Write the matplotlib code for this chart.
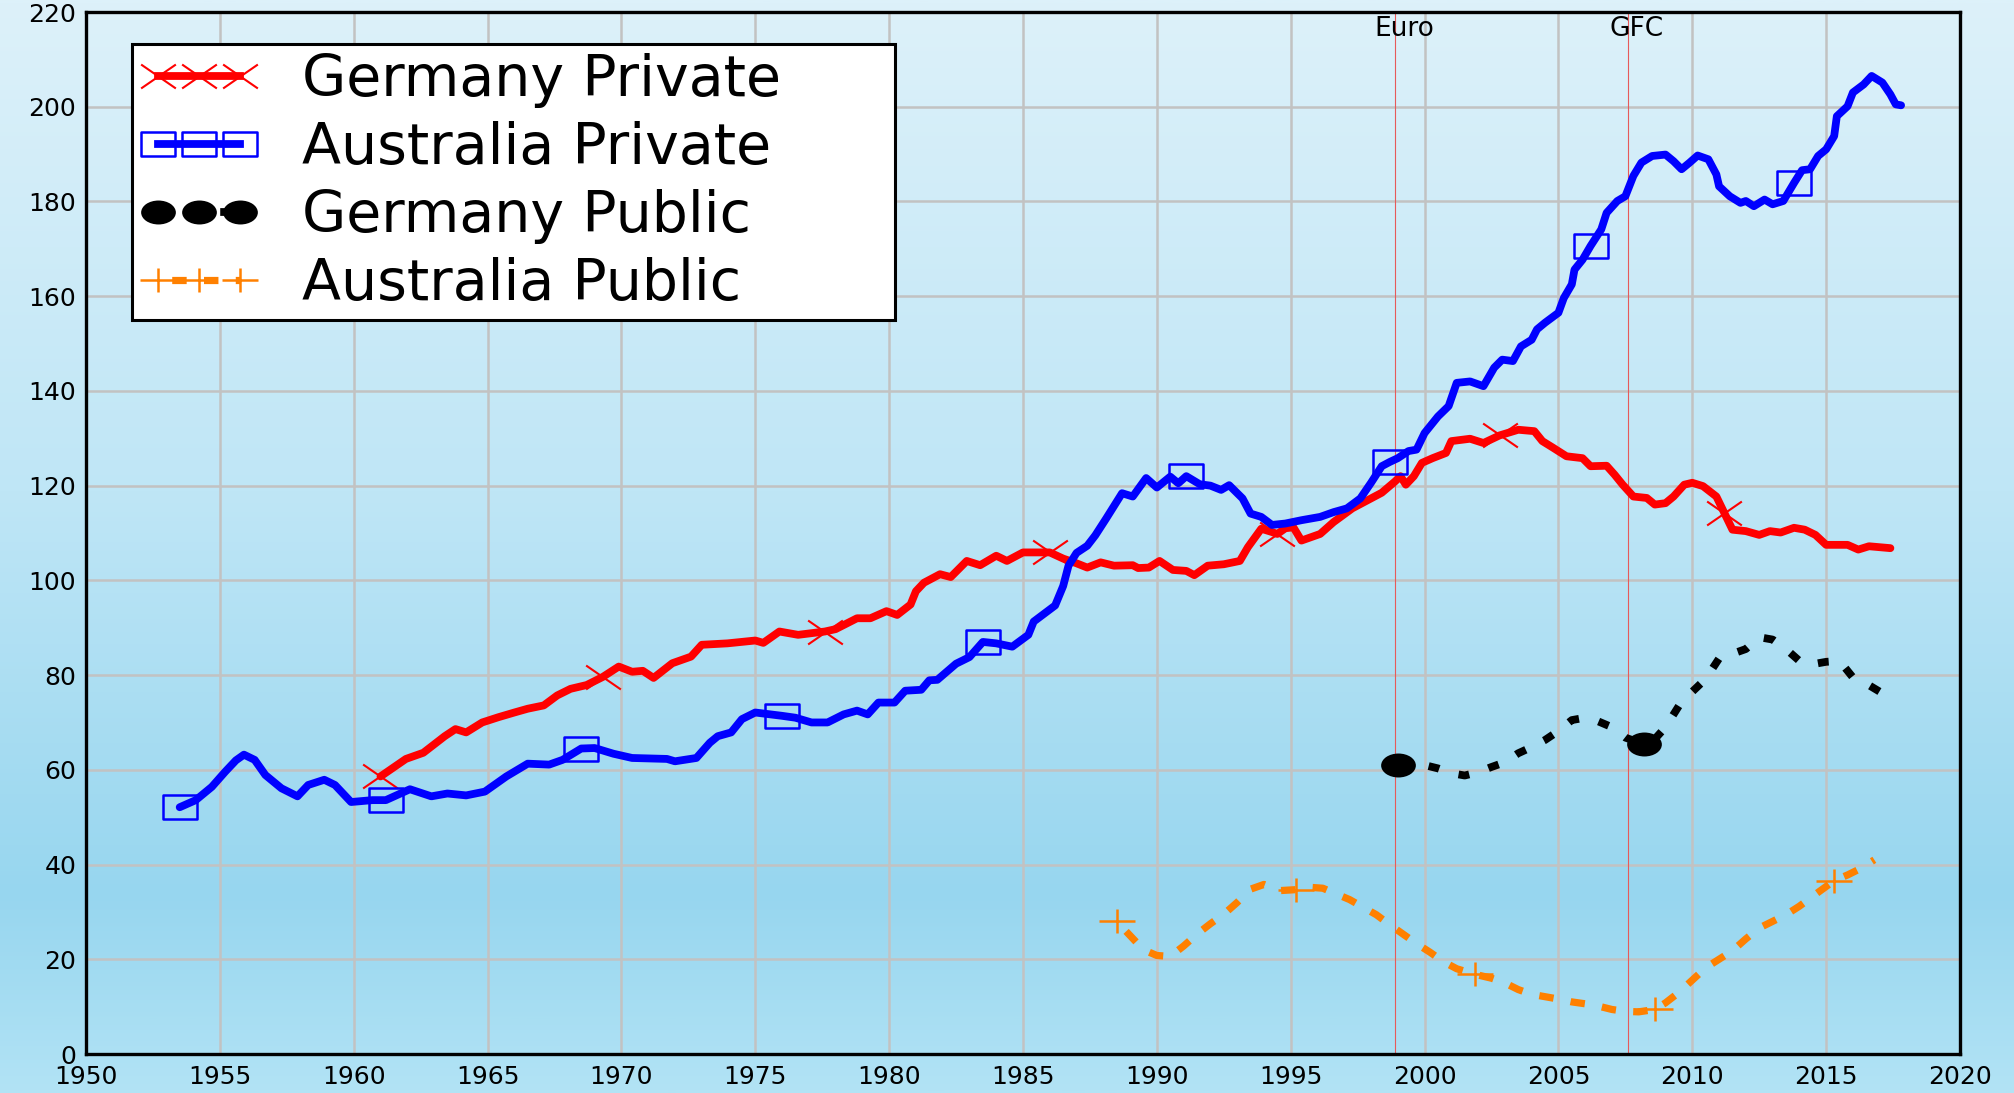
import numpy as np
import matplotlib
matplotlib.use("Agg")
import matplotlib.pyplot as plt
from matplotlib.path import Path
from matplotlib.lines import Line2D
from matplotlib.colors import LinearSegmentedColormap

plt.rcParams['font.family'] = ['DejaVu Sans']

# ---------------- data ----------------
DE_PRIV_YEARS = [1961.0, 1961.95, 1962.6, 1963.4, 1963.8, 1964.2, 1964.8, 1965.4, 1966.0, 1966.5,
                 1967.1, 1967.6, 1968.1, 1968.7, 1969.3, 1969.9, 1970.4, 1970.8, 1971.2, 1971.9,
                 1972.6, 1973.0, 1973.96, 1975.0, 1975.3, 1975.9, 1976.6, 1977.6, 1978.0, 1978.8,
                 1979.3, 1979.9, 1980.3, 1980.8, 1981.0, 1981.3, 1981.9, 1982.3, 1982.9, 1983.4,
                 1984.0, 1984.4, 1985.0, 1985.5, 1986.0, 1986.5, 1987.0, 1987.4, 1987.9, 1988.4,
                 1989.1, 1989.3, 1989.7, 1990.1, 1990.6, 1991.1, 1991.4, 1991.9, 1992.5, 1993.1,
                 1993.4, 1993.9, 1994.3, 1994.5, 1994.8, 1995.1, 1995.4, 1996.1, 1996.6, 1997.3,
                 1997.8, 1998.4, 1998.9, 1999.1, 1999.3, 1999.6, 1999.9, 2000.3, 2000.8, 2001.0,
                 2001.7, 2002.2, 2002.8, 2003.5, 2004.1, 2004.4, 2004.8, 2005.3, 2005.9, 2006.2,
                 2006.8, 2007.1, 2007.4, 2007.8, 2008.3, 2008.6, 2009.0, 2009.3, 2009.7, 2010.0,
                 2010.4, 2010.9, 2011.2, 2011.5, 2012.0, 2012.5, 2012.9, 2013.3, 2013.8, 2014.2,
                 2014.6, 2015.0, 2015.8, 2016.2, 2016.6, 2017.4]
DE_PRIV = [58.6, 62.3, 63.6, 67.1, 68.6, 67.9, 70.0, 71.1, 72.1, 72.9,
           73.6, 75.7, 77.1, 77.9, 79.6, 81.8, 80.7, 80.9, 79.4, 82.5,
           83.9, 86.4, 86.7, 87.3, 86.8, 89.2, 88.5, 89.2, 89.7, 92.0,
           92.0, 93.5, 92.7, 94.9, 97.7, 99.5, 101.3, 100.7, 104.1, 103.2,
           105.2, 104.1, 105.9, 105.9, 105.9, 104.6, 103.6, 102.7, 103.8, 103.1,
           103.2, 102.6, 102.7, 104.1, 102.2, 102.0, 101.1, 103.1, 103.4, 104.1,
           107.0, 110.9, 110.2, 109.8, 111.0, 111.2, 108.4, 109.8, 112.3, 115.2,
           116.7, 118.5, 120.9, 122.0, 120.2, 122.0, 124.8, 125.8, 126.9, 129.4,
           129.9, 129.0, 130.6, 131.8, 131.5, 129.4, 128.0, 126.2, 125.8, 124.1,
           124.2, 122.3, 120.2, 117.7, 117.4, 116.0, 116.3, 117.7, 120.2, 120.6,
           119.9, 117.7, 114.2, 110.7, 110.4, 109.6, 110.4, 110.1, 111.1, 110.7,
           109.6, 107.5, 107.5, 106.5, 107.2, 106.8]
DE_PRIV_MARK_YEARS = [1961.0, 1969.3, 1977.6, 1986.0, 1994.5, 2002.8, 2011.2]

AU_PRIV_YEARS = [1953.5, 1954.1, 1954.7, 1955.2, 1955.6, 1955.9, 1956.3, 1956.7, 1957.3, 1957.9,
                 1958.3, 1958.9, 1959.3, 1959.9, 1960.7, 1961.2, 1962.1, 1962.9, 1963.5, 1964.2,
                 1964.9, 1965.7, 1966.5, 1967.3, 1967.8, 1968.5, 1969.0, 1969.7, 1970.4, 1971.7,
                 1972.0, 1972.8, 1973.3, 1973.6, 1974.1, 1974.5, 1975.0, 1976.0, 1976.5, 1977.1,
                 1977.7, 1978.3, 1978.8, 1979.2, 1979.6, 1980.2, 1980.6, 1981.2, 1981.5, 1981.8,
                 1982.5, 1983.0, 1983.5, 1984.0, 1984.6, 1985.2, 1985.4, 1986.2, 1986.5, 1986.7,
                 1987.0, 1987.4, 1987.7, 1988.1, 1988.5, 1988.7, 1989.1, 1989.6, 1990.0, 1990.5,
                 1990.8, 1991.1, 1991.6, 1992.0, 1992.4, 1992.7, 1993.2, 1993.5, 1993.9, 1994.3,
                 1994.8, 1995.4, 1996.1, 1996.6, 1997.1, 1997.6, 1998.0, 1998.4, 1998.7, 1999.0,
                 1999.4, 1999.7, 2000.0, 2000.5, 2000.9, 2001.2, 2001.7, 2002.2, 2002.6, 2002.9,
                 2003.3, 2003.6, 2004.0, 2004.2, 2004.5, 2005.0, 2005.2, 2005.5, 2005.6, 2005.9,
                 2006.2, 2006.6, 2006.8, 2007.2, 2007.5, 2007.8, 2008.1, 2008.5, 2009.0, 2009.3,
                 2009.6, 2009.9, 2010.2, 2010.6, 2010.9, 2011.0, 2011.4, 2011.8, 2012.0, 2012.3,
                 2012.7, 2013.0, 2013.4, 2013.8, 2014.1, 2014.4, 2014.7, 2015.0, 2015.3, 2015.4,
                 2015.8, 2016.0, 2016.4, 2016.7, 2017.1, 2017.4, 2017.6, 2017.8]
AU_PRIV = [52.1, 53.6, 56.4, 59.6, 62.0, 63.2, 62.1, 58.9, 56.1, 54.4,
           56.8, 57.9, 56.8, 53.2, 53.6, 53.6, 55.9, 54.4, 55.0, 54.6,
           55.4, 58.6, 61.3, 61.1, 62.1, 64.5, 64.6, 63.4, 62.5, 62.3,
           61.8, 62.5, 65.7, 67.1, 67.9, 70.7, 72.1, 71.4, 71.0, 70.0,
           70.0, 71.7, 72.5, 71.7, 74.2, 74.2, 76.7, 76.9, 78.9, 79.0,
           82.4, 83.8, 87.0, 86.7, 86.0, 88.5, 91.3, 94.7, 98.8, 103.1,
           105.8, 107.3, 109.5, 113.0, 116.6, 118.4, 117.7, 121.6, 119.6, 121.9,
           120.5, 122.0, 120.3, 120.0, 119.1, 120.1, 117.3, 114.1, 113.4, 111.7,
           112.0, 112.7, 113.4, 114.4, 115.2, 117.3, 120.6, 124.1, 125.0, 125.8,
           127.3, 127.6, 131.1, 134.6, 136.8, 141.7, 142.0, 141.0, 144.9, 146.6,
           146.3, 149.4, 150.8, 153.0, 154.4, 156.5, 159.6, 162.5, 165.6, 167.7,
           170.6, 174.1, 177.6, 180.1, 181.1, 185.4, 188.2, 189.6, 189.9, 188.5,
           186.8, 188.2, 189.7, 188.9, 185.7, 183.2, 181.1, 179.7, 180.1, 179.0,
           180.4, 179.4, 180.1, 183.9, 186.6, 186.8, 189.6, 191.0, 193.8, 198.0,
           200.1, 203.0, 204.7, 206.5, 205.1, 202.6, 200.5, 200.3]
AU_PRIV_MARK_YEARS = [1953.5, 1961.2, 1968.5, 1976.0, 1983.5, 1991.1, 1998.7, 2006.2, 2013.8]

DE_PUB_YEARS = [1999.0, 1999.5, 2000.0, 2000.5, 2001.0, 2001.5, 2002.0, 2002.5, 2003.0, 2003.5,
                2004.0, 2004.5, 2005.0, 2005.5, 2006.0, 2006.5, 2007.0, 2007.5, 2008.2, 2008.6,
                2009.0, 2009.5, 2010.0, 2010.5, 2011.0, 2011.5, 2012.0, 2012.5, 2013.0, 2013.5,
                2014.0, 2014.5, 2015.0, 2015.5, 2016.0, 2016.5, 2017.0, 2017.2]
DE_PUB = [61.0, 61.3, 61.0, 60.3, 59.3, 58.8, 59.5, 60.6, 61.6, 63.5,
          64.8, 66.3, 68.2, 70.5, 71.0, 70.2, 69.0, 66.8, 65.4, 66.5,
          69.0, 73.5, 76.5, 79.2, 83.5, 84.5, 85.5, 88.0, 87.5, 85.5,
          83.0, 82.3, 82.8, 83.0, 79.5, 78.2, 76.5, 75.5]
DE_PUB_MARK_YEARS = [1999.0, 2008.2]

AU_PUB_YEARS = [1988.5, 1989.0, 1989.5, 1990.0, 1990.5, 1991.0, 1991.5, 1992.0, 1992.5, 1993.0,
                1993.5, 1994.0, 1994.6, 1995.2, 1995.7, 1996.2, 1996.7, 1997.2, 1997.7, 1998.2,
                1998.7, 1999.2, 1999.7, 2000.2, 2000.7, 2001.2, 2001.9, 2002.5, 2003.0, 2003.5,
                2004.0, 2004.5, 2005.0, 2005.5, 2006.0, 2006.5, 2007.0, 2007.5, 2008.0, 2008.6,
                2009.0, 2009.5, 2010.0, 2010.5, 2011.0, 2011.5, 2012.0, 2012.5, 2013.0, 2013.5,
                2014.0, 2014.5, 2015.3, 2015.8, 2016.3, 2016.8]
AU_PUB = [28.0, 25.0, 22.0, 20.8, 20.6, 22.8, 25.3, 27.5, 29.5, 32.0,
          34.8, 35.8, 34.5, 34.7, 35.2, 35.0, 33.8, 32.6, 31.0, 29.4,
          27.3, 25.3, 23.3, 21.5, 19.5, 18.0, 16.8, 16.0, 15.0, 13.6,
          12.6, 12.1, 11.6, 11.0, 10.6, 10.1, 9.4, 9.0, 8.9, 9.4,
          10.8, 13.0, 15.6, 18.2, 20.0, 21.8, 24.3, 26.6, 28.0, 29.4,
          31.2, 33.3, 36.6, 37.8, 39.2, 41.0]
AU_PUB_MARK_YEARS = [1988.5, 1995.2, 2001.9, 2008.6, 2015.3]

EVENT_YEARS = [1998.9, 2007.6]
EVENT_LABELS = ["Euro", "GFC"]

LABELS = ["Germany Private", "Australia Private", "Germany Public", "Australia Public"]
X_TICKS = list(range(1950, 2021, 5))
Y_TICKS = list(range(0, 221, 20))

# ---------------- markers (horizontally stretched, like the reference) ----------------
S = 1.45
M, L = Path.MOVETO, Path.LINETO
X_MARK = Path([(-S, -1), (S, 1), (-S, 1), (S, -1)], [M, L, M, L])
PLUS_MARK = Path([(-S, 0), (S, 0), (0, -1), (0, 1)], [M, L, M, L])
SQ_MARK = Path([(-S, -1), (S, -1), (S, 1), (-S, 1), (-S, -1)],
               [M, L, L, L, Path.CLOSEPOLY])
_uc = Path.unit_circle()
ELL_MARK = Path(_uc.vertices * np.array([S, 1.0]), _uc.codes)

RED, BLUE, BLACK, ORANGE = "#ff0000", "#0000ff", "#000000", "#ff8000"

styles = [
    dict(color=RED, lw=5.6, ls='-', marker=X_MARK, ms=25, mew=1.5, mfc='none', mec=RED),
    dict(color=BLUE, lw=5.6, ls='-', marker=SQ_MARK, ms=24.5, mew=1.8, mfc='none', mec=BLUE),
    dict(color=BLACK, lw=5.6, ls=(0, (1.4, 2.6)), marker=ELL_MARK, ms=25, mew=0, mfc=BLACK, mec=BLACK),
    dict(color=ORANGE, lw=5.2, ls=(2.5, (2.0, 2.4)), marker=PLUS_MARK, ms=26, mew=1.8, mfc='none', mec=ORANGE),
]
series = [
    (DE_PRIV_YEARS, DE_PRIV, DE_PRIV_MARK_YEARS),
    (AU_PRIV_YEARS, AU_PRIV, AU_PRIV_MARK_YEARS),
    (DE_PUB_YEARS, DE_PUB, DE_PUB_MARK_YEARS),
    (AU_PUB_YEARS, AU_PUB, AU_PUB_MARK_YEARS),
]

# ---------------- figure ----------------
W, H = 2014, 1093
fig = plt.figure(figsize=(W / 100, H / 100), dpi=100)

# background gradient
bg = fig.add_axes([0, 0, 1, 1], zorder=-10)
cmap = LinearSegmentedColormap.from_list(
    "bgc", [(0.0, "#ddf1fa"), (0.45, "#bfe6f6"), (0.82, "#97d6ef"), (1.0, "#b2e3f5")])
grad = np.linspace(0, 1, 512).reshape(-1, 1)
bg.imshow(grad, aspect='auto', cmap=cmap, extent=[0, 1, 0, 1], origin='upper')
bg.set_axis_off()

ax = fig.add_axes([86 / W, 1 - 1054 / H, 1874 / W, 1042 / H])
ax.set_facecolor('none')
ax.set_xlim(1950, 2020)
ax.set_ylim(0, 220)
ax.set_xticks(X_TICKS)
ax.set_yticks(Y_TICKS)
ax.tick_params(length=0, labelsize=18)
ax.tick_params(axis='x', pad=8)
ax.tick_params(axis='y', pad=7)
ax.grid(True, color='#c2c2c2', lw=1.8)
ax.set_axisbelow(True)
for sp in ax.spines.values():
    sp.set_linewidth(2.4)
    sp.set_color('black')

for yr, lab in zip(EVENT_YEARS, EVENT_LABELS):
    ax.axvline(yr, color='#e65a5a', lw=0.8, zorder=1)
    ax.annotate(lab, xy=(yr, 1), xycoords=('data', 'axes fraction'),
                xytext=(6.5, -12), textcoords='offset points',
                ha='center', va='center', fontsize=19)

handles = []
for (yrs, vals, marks), st in zip(series, styles):
    idx = [yrs.index(m) for m in marks]
    ax.plot(yrs, vals, color=st['color'], lw=st['lw'], ls=st['ls'],
            solid_capstyle='round', dash_capstyle='butt', solid_joinstyle='round',
            marker=st['marker'], ms=st['ms'], mew=st['mew'], mfc=st['mfc'], mec=st['mec'],
            markevery=idx, zorder=3)
    handles.append(Line2D([], [], color=st['color'], lw=st['lw'], ls=st['ls'],
                          dash_capstyle='butt',
                          marker=st['marker'], ms=st['ms'], mew=st['mew'],
                          mfc=st['mfc'], mec=st['mec']))

ax_w = 1874.0
ax_h = 1042.0
lx0 = (132 - 86) / ax_w
lx1 = (895 - 86) / ax_w
ly1 = 1 - (44 - 12) / ax_h
leg = ax.legend(handles, LABELS, loc='upper left',
                bbox_to_anchor=(lx0, 0.5, lx1 - lx0, ly1 - 0.5),
                mode='expand', borderaxespad=0, numpoints=3,
                fontsize=41, handlelength=2.05, handletextpad=0.78,
                borderpad=0.15, labelspacing=0.23, frameon=True, fancybox=False,
                framealpha=1, edgecolor='black', facecolor='white')
leg.get_frame().set_linewidth(2.2)
leg.set_zorder(5)

fig.savefig("out.png", dpi=100)
